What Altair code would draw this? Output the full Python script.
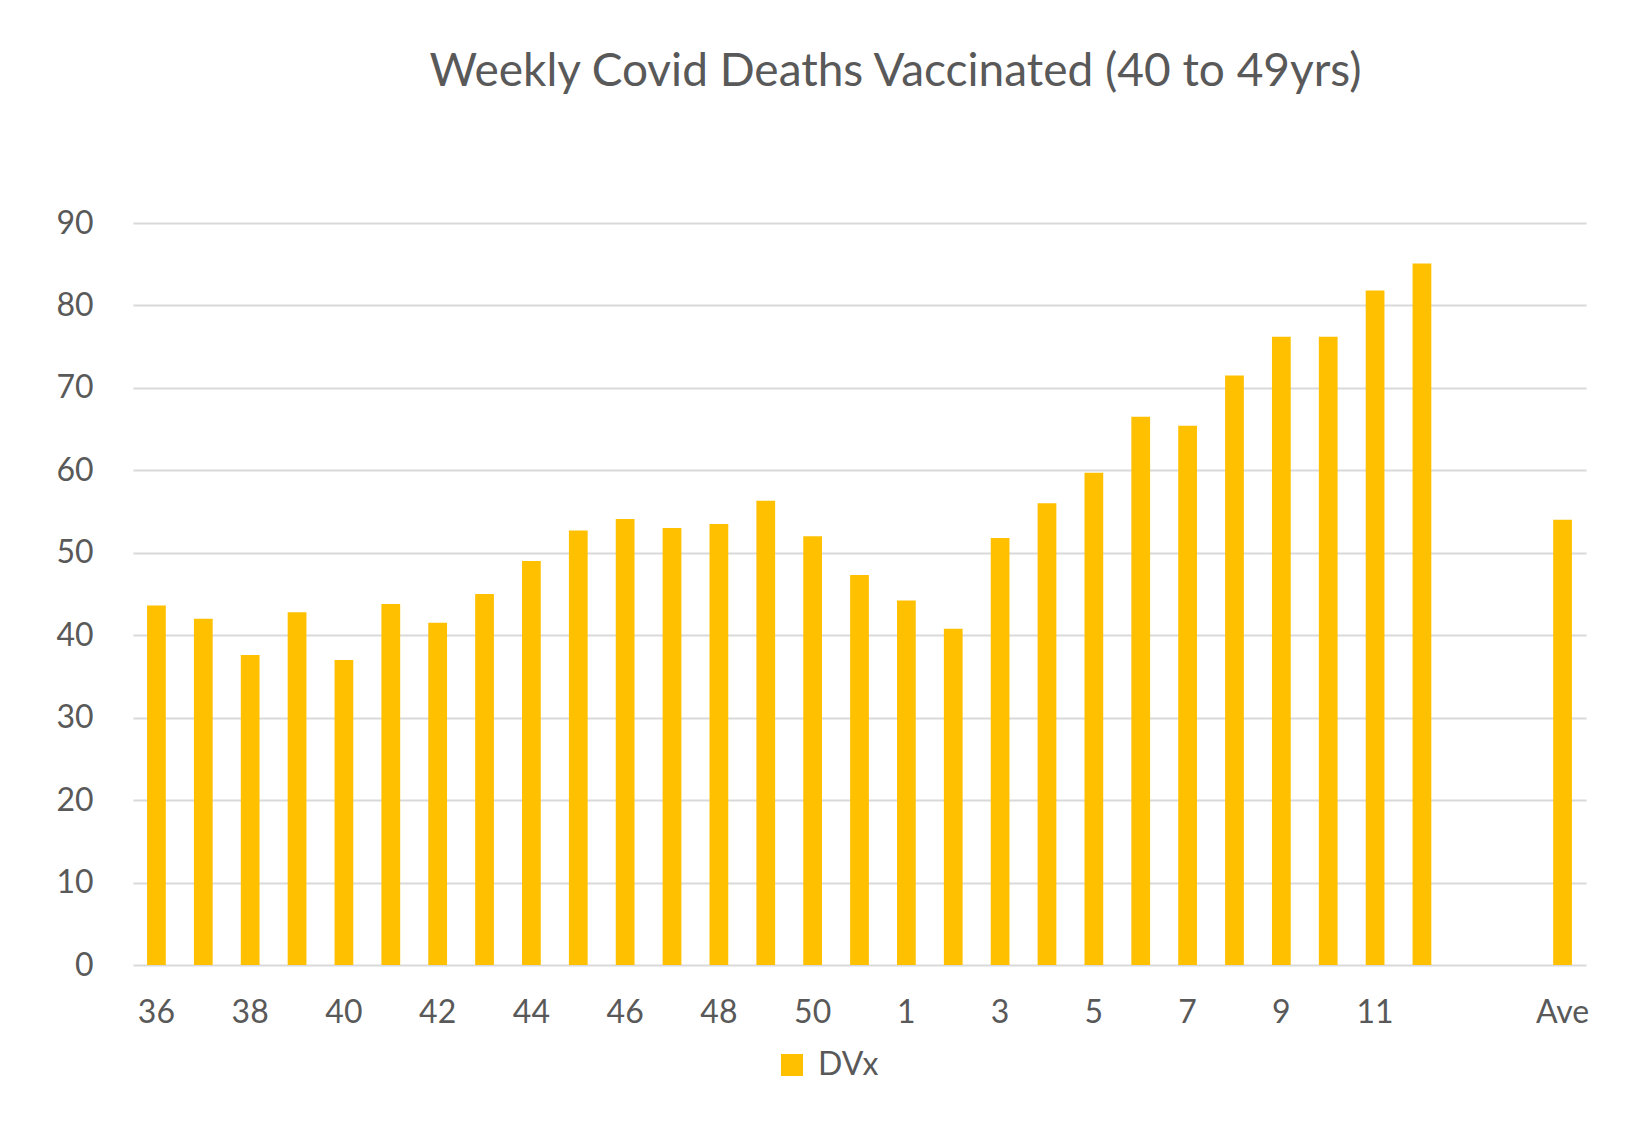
import altair as alt
import pandas as pd

weeks = ["36", "37", "38", "39", "40", "41", "42", "43", "44", "45", "46", "47",
         "48", "49", "50", "51", "1", "2", "3", "4", "5", "6", "7", "8", "9",
         "10", "11", "12", " ", "  ", "Ave"]
deaths = [43.6, 42.0, 37.6, 42.8, 37.0, 43.8, 41.5, 45.0, 49.0, 52.7, 54.1, 53.0,
          53.5, 56.3, 52.0, 47.3, 44.2, 40.8, 51.8, 56.0, 59.7, 66.5, 65.4, 71.5, 76.2,
          76.2, 81.8, 85.1, None, None, 54.0]
labelled = ["36", "38", "40", "42", "44", "46", "48", "50", "1", "3", "5", "7",
            "9", "11", "Ave"]
y_ticks = [0, 10, 20, 30, 40, 50, 60, 70, 80, 90]
series = "DVx"

df = pd.DataFrame({"week": weeks, "value": deaths, "series": series})

FONT = "Lato"
TXT = "#595959"

chart = alt.Chart(df).mark_bar(color="#FFC000").encode(
    x=alt.X("week:N", sort=weeks,
            scale=alt.Scale(paddingInner=0.6, paddingOuter=0.3),
            axis=alt.Axis(title=None, values=labelled, labelAngle=0, ticks=False,
                          domain=False, labelFontSize=32, labelColor=TXT,
                          labelFont=FONT, labelPadding=32, grid=False)),
    y=alt.Y("value:Q", scale=alt.Scale(domain=[0, 90], nice=False),
            axis=alt.Axis(title=None, values=y_ticks, ticks=False, domain=False,
                          labelFontSize=32, labelColor=TXT, labelFont=FONT,
                          labelPadding=40, gridColor="#D9D9D9", gridWidth=2)),
    fill=alt.Fill("series:N", scale=alt.Scale(range=["#FFC000"]),
                  legend=alt.Legend(title=None, orient="none", legendX=643, legendY=826,
                                    symbolType="square", symbolSize=484,
                                    symbolStrokeWidth=0, labelFontSize=32,
                                    labelColor=TXT, labelFont=FONT, labelOffset=10)),
).properties(
    width=1453, height=742,
    title=alt.TitleParams("Weekly Covid Deaths Vaccinated (40 to 49yrs)",
                          fontSize=46, font=FONT, color=TXT, fontWeight="normal",
                          anchor="middle", dx=36, offset=111),
    autosize=alt.AutoSizeParams(type="none"),
    padding={"left": 125, "top": 215, "right": 44, "bottom": 150},
    background="white",
).configure_view(stroke=None)

chart.save("out.html", embed_options={"renderer": "svg", "actions": False})
